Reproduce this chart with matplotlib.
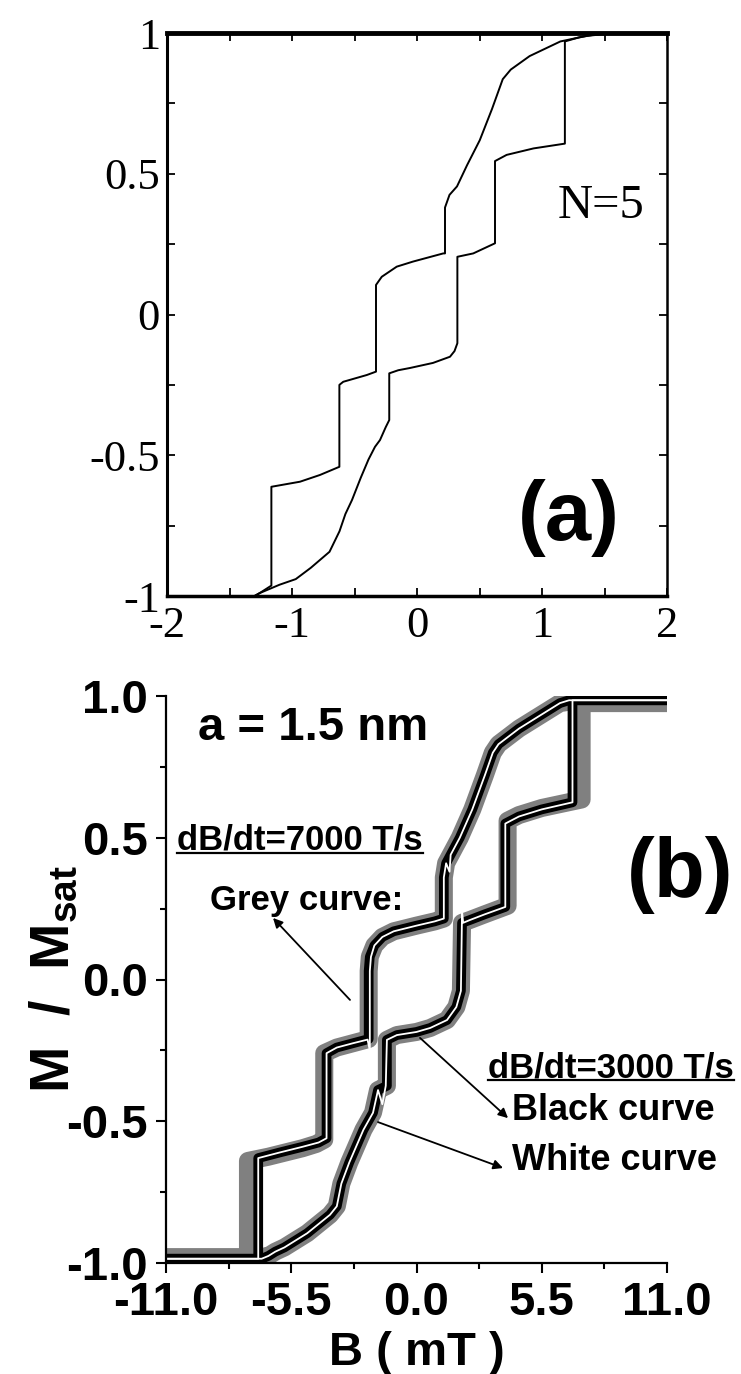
import matplotlib
matplotlib.use('Agg')
import matplotlib.pyplot as plt
from matplotlib.lines import Line2D

plt.rcParams['axes.unicode_minus'] = False
plt.rcParams['mathtext.fontset'] = 'custom'
plt.rcParams['mathtext.rm'] = 'Liberation Sans:bold'
plt.rcParams['mathtext.bf'] = 'Liberation Sans:bold'
plt.rcParams['mathtext.it'] = 'Liberation Sans:bold'

# ---------------- panel (a): model, N=5 ----------------
# branch swept upwards (lower curve)
a_up_x = [-2.0, -1.3, -1.26, -1.1, -0.97, -0.85, -0.70, -0.62, -0.573, -0.52, -0.45, -0.388,
          -0.336, -0.296, -0.25, -0.222, -0.222, -0.15, -0.056, 0.128, 0.264, 0.30, 0.323,
          0.323, 0.45, 0.624, 0.624, 0.717, 0.932, 1.183, 1.183, 1.3, 1.5, 2.0]
a_up_y = [-1.0, -1.0, -0.99, -0.96, -0.94, -0.9, -0.843, -0.77, -0.709, -0.659, -0.58, -0.515,
          -0.47, -0.446, -0.40, -0.375, -0.209, -0.198, -0.19, -0.172, -0.15, -0.13, -0.102,
          0.205, 0.217, 0.253, 0.545, 0.567, 0.590, 0.607, 0.97, 0.985, 1.0, 1.0]
# branch swept downwards (upper curve)
a_dn_x = [-2.0, -1.3, -1.26, -1.165, -1.165, -0.936, -0.776, -0.621, -0.621, -0.59, -0.402,
          -0.328, -0.328, -0.282, -0.162, -0.032, 0.21, 0.224, 0.224, 0.26, 0.32, 0.40, 0.502,
          0.6, 0.686, 0.75, 0.901, 1.147, 1.36, 1.6, 2.0]
a_dn_y = [-1.0, -1.0, -0.99, -0.963, -0.612, -0.594, -0.57, -0.541, -0.25, -0.239, -0.215,
          -0.203, 0.105, 0.134, 0.170, 0.188, 0.217, 0.217, 0.38, 0.425, 0.455, 0.53, 0.619,
          0.73, 0.836, 0.87, 0.918, 0.970, 0.99, 1.0, 1.0]
a_xticks = [-2, -1, 0, 1, 2]
a_xlabels = ['-2', '-1', '0', '1', '2']
a_xminor = [-1.5, -0.5, 0.5, 1.5]
a_yticks = [-1, -0.5, 0, 0.5, 1]
a_ylabels = ['-1', '-0.5', '0', '0.5', '1']
a_yminor = [-0.75, -0.25, 0.25, 0.75]

# ---------------- panel (b): simulation, a = 1.5 nm ----------------
# black curve (dB/dt = 3000 T/s)
bk_dn_x = [-11, -6.95, -6.95, -6.0, -5.0, -4.3, -3.95, -3.95, -3.5, -2.8, -2.1, -2.1, -2.05,
           -1.85, -1.5, -1.0, 0.0, 0.8, 1.2, 1.2, 1.3, 1.5, 1.9, 2.45, 3.0, 3.35, 3.6, 4.5,
           5.5, 6.3, 6.7, 11]
bk_dn_y = [-0.985, -0.985, -0.63, -0.61, -0.59, -0.575, -0.56, -0.26, -0.24, -0.225, -0.21,
           0.03, 0.08, 0.12, 0.15, 0.17, 0.19, 0.205, 0.215, 0.36, 0.41, 0.44, 0.5, 0.6, 0.72,
           0.8, 0.83, 0.885, 0.935, 0.975, 0.985, 0.985]
bk_up_x = [-11, -6.8, -6.5, -6.2, -5.8, -4.8, -3.8, -3.5, -3.3, -2.95, -2.33, -1.91, -1.69,
           -1.3, -1.3, -0.86, 0.0, 0.6, 1.34, 1.75, 1.95, 2.0, 2.35, 3.0, 3.9, 3.9, 4.5, 5.5,
           6.85, 6.85, 11]
bk_up_y = [-0.985, -0.985, -0.975, -0.96, -0.945, -0.895, -0.83, -0.8, -0.72, -0.645, -0.53,
           -0.47, -0.39, -0.375, -0.213, -0.196, -0.185, -0.171, -0.143, -0.097, -0.04, 0.2,
           0.21, 0.23, 0.256, 0.55, 0.575, 0.6, 0.625, 0.985, 0.985]
# grey curve (dB/dt = 7000 T/s)
gr_dn_x = [-11, -7.4, -7.4, -6.5, -5.0, -4.4, -4.05, -4.05, -3.5, -2.8, -2.1, -2.1, -2.05,
           -1.85, -1.5, -1.0, 0.0, 0.8, 1.2, 1.2, 1.3, 1.5, 1.9, 2.45, 3.0, 3.35, 3.6, 4.5,
           5.5, 6.3, 6.7, 11]
gr_dn_y = [-0.98, -0.98, -0.64, -0.625, -0.595, -0.58, -0.565, -0.26, -0.24, -0.225, -0.21,
           0.03, 0.08, 0.12, 0.15, 0.17, 0.19, 0.205, 0.215, 0.36, 0.41, 0.44, 0.5, 0.6, 0.72,
           0.8, 0.83, 0.885, 0.935, 0.975, 0.98, 0.98]
gr_up_x = [-11, -6.9, -6.5, -6.2, -5.8, -4.8, -3.8, -3.5, -3.3, -2.95, -2.33, -1.91, -1.69,
           -1.3, -1.3, -0.86, 0.0, 0.6, 1.34, 1.75, 1.95, 2.0, 2.35, 3.0, 4.0, 4.0, 4.5, 5.5,
           7.25, 7.25, 11]
gr_up_y = [-0.98, -0.98, -0.975, -0.96, -0.945, -0.895, -0.83, -0.8, -0.72, -0.645, -0.53,
           -0.47, -0.39, -0.375, -0.213, -0.196, -0.185, -0.171, -0.143, -0.097, -0.04, 0.2,
           0.21, 0.23, 0.26, 0.56, 0.58, 0.605, 0.635, 0.975, 0.975]
# white curve (dB/dt = 3000 T/s, second run)
wh_dn_x = [-11, -6.95, -6.95, -6.0, -5.0, -4.3, -3.95, -3.95, -3.5, -2.8, -2.15, -2.05, -2.05,
           -2.0, -1.85, -1.5, -1.0, 0.0, 0.8, 1.2, 1.2, 1.3, 1.45, 1.5, 1.9, 2.45, 3.0, 3.35,
           3.6, 4.5, 5.5, 6.3, 6.7, 11]
wh_dn_y = [-0.985, -0.985, -0.63, -0.61, -0.59, -0.575, -0.56, -0.26, -0.24, -0.225, -0.212,
           -0.25, 0.03, 0.08, 0.12, 0.15, 0.17, 0.19, 0.205, 0.215, 0.36, 0.41, 0.38, 0.44,
           0.5, 0.6, 0.72, 0.8, 0.83, 0.885, 0.935, 0.975, 0.985, 0.985]
wh_up_x = [-11, -6.8, -6.5, -6.2, -5.8, -4.8, -3.8, -3.5, -3.3, -2.95, -2.33, -1.91, -1.69,
           -1.5, -1.35, -1.3, -0.86, 0.0, 0.6, 1.34, 1.75, 1.95, 2.0, 2.05, 2.35, 3.0, 3.9,
           3.9, 4.5, 5.5, 6.85, 6.85, 11]
wh_up_y = [-0.985, -0.985, -0.975, -0.96, -0.945, -0.895, -0.83, -0.8, -0.72, -0.645, -0.53,
           -0.47, -0.39, -0.44, -0.375, -0.213, -0.196, -0.185, -0.171, -0.143, -0.097, -0.04,
           0.24, 0.2, 0.21, 0.23, 0.256, 0.55, 0.575, 0.6, 0.625, 0.985, 0.985]
b_xticks = [-11, -5.5, 0, 5.5, 11]
b_xlabels = ['-11.0', '-5.5', '0.0', '5.5', '11.0']
b_xminor = [-8.25, -2.75, 2.75, 8.25]
b_yticks = [-1, -0.5, 0, 0.5, 1]
b_ylabels = ['-1.0', '-0.5', '0.0', '0.5', '1.0']
b_yminor = [-0.75, -0.25, 0.25, 0.75]

fig = plt.figure(figsize=(7.41, 13.74), dpi=100)
W, H = 741.0, 1374.0

# ----- panel (a)
ax1 = fig.add_axes([167 / W, 1 - 596 / H, 500 / W, 563 / H])
ax1.plot(a_up_x, a_up_y, color='k', lw=1.4)
ax1.plot(a_dn_x, a_dn_y, color='k', lw=1.4)
ax1.set_xlim(-2, 2)
ax1.set_ylim(-1, 1)
ax1.set_xticks(a_xticks)
ax1.set_xticklabels(a_xlabels, fontsize=32, family='Liberation Serif')
ax1.set_xticks(a_xminor, minor=True)
ax1.set_yticks(a_yticks)
ax1.set_yticklabels(a_ylabels, fontsize=32, family='Liberation Serif')
ax1.set_yticks(a_yminor, minor=True)
ax1.tick_params(which='both', direction='in', top=True, right=True, length=6, width=1.3)
ax1.tick_params(axis='x', pad=7)
ax1.tick_params(axis='y', pad=5)
ax1.spines['top'].set_linewidth(3.5)
ax1.spines['bottom'].set_linewidth(2.5)
ax1.spines['left'].set_linewidth(2.2)
ax1.spines['right'].set_linewidth(1.8)
ax1.text(1.128, 0.343, 'N=5', fontsize=35, family='Liberation Serif', ha='left', va='baseline')
ax1.text(1.216, -0.723, '(a)', fontsize=60, family='Liberation Sans', fontweight='bold',
         ha='center', va='center')

# ----- panel (b)
ax2 = fig.add_axes([166 / W, 1 - 1263 / H, 501 / W, 567 / H])
for xs, ys in [(gr_dn_x, gr_dn_y), (gr_up_x, gr_up_y)]:
    ax2.plot(xs, ys, color='#808080', lw=13, solid_joinstyle='round', solid_capstyle='round')
for xs, ys in [(bk_dn_x, bk_dn_y), (bk_up_x, bk_up_y)]:
    ax2.plot(xs, ys, color='k', lw=7, solid_joinstyle='round', solid_capstyle='round')
for xs, ys in [(wh_dn_x, wh_dn_y), (wh_up_x, wh_up_y)]:
    ax2.plot(xs, ys, color='white', lw=1.3)
ax2.set_xlim(-11, 11)
ax2.set_ylim(-1, 1)
ax2.spines['top'].set_visible(False)
ax2.spines['right'].set_visible(False)
ax2.spines['left'].set_linewidth(1.6)
ax2.spines['bottom'].set_linewidth(1.6)
ax2.set_xticks(b_xticks)
ax2.set_xticklabels(b_xlabels, fontsize=34, family='Liberation Sans', fontweight='bold')
ax2.set_xticks(b_xminor, minor=True)
ax2.set_yticks(b_yticks)
ax2.set_yticklabels(b_ylabels, fontsize=34, family='Liberation Sans', fontweight='bold')
ax2.set_yticks(b_yminor, minor=True)
ax2.tick_params(which='major', direction='out', length=7, width=1.5)
ax2.tick_params(which='minor', direction='out', length=4.5, width=1.5)
ax2.tick_params(axis='x', pad=6)
ax2.tick_params(axis='y', pad=6)
ax2.set_xlabel('B ( mT )', fontsize=34, family='Liberation Sans', fontweight='bold', labelpad=4)
ax2.set_ylabel(r'M  /  M$_{\mathbf{sat}}$', fontsize=40, family='Liberation Sans',
               fontweight='bold')
ax2.yaxis.set_label_coords(-0.17, 0.5)

bold = dict(family='Liberation Sans', fontweight='bold')
ax2.text(-9.59, 0.845, 'a = 1.5 nm', fontsize=34, ha='left', va='baseline', **bold)
t7 = ax2.text(-10.52, 0.457, 'dB/dt=7000 T/s', fontsize=25, ha='left', va='baseline', **bold)
ax2.text(-9.07, 0.245, 'Grey curve:', fontsize=25, ha='left', va='baseline', **bold)
t3 = ax2.text(3.14, -0.344, 'dB/dt=3000 T/s', fontsize=25, ha='left', va='baseline',
              clip_on=False, **bold)
ax2.text(4.19, -0.496, 'Black curve', fontsize=26, ha='left', va='baseline', **bold)
ax2.text(4.19, -0.672, 'White curve', fontsize=26, ha='left', va='baseline', **bold)
ax2.text(1.026, 0.684, '(b)', fontsize=60, ha='center', va='center', transform=ax2.transAxes,
         **bold)

arrow = dict(arrowstyle='-|>', color='k', lw=1.3, mutation_scale=14, shrinkA=0, shrinkB=0)
ax2.annotate('', xy=(-6.30, 0.217), xytext=(-2.92, -0.072), arrowprops=arrow)
ax2.annotate('', xy=(4.02, -0.489), xytext=(0.155, -0.206), arrowprops=arrow)
ax2.annotate('', xy=(3.8, -0.665), xytext=(-1.69, -0.503), arrowprops=arrow)

# underline the two sweep-rate labels
fig.canvas.draw()
for t in (t7, t3):
    bb = t.get_window_extent()
    yu = (bb.y0 + 4) / H
    fig.add_artist(Line2D([bb.x0 / W, bb.x1 / W], [yu, yu], color='k', lw=1.6,
                          transform=fig.transFigure))

fig.savefig('out.png', dpi=100)
